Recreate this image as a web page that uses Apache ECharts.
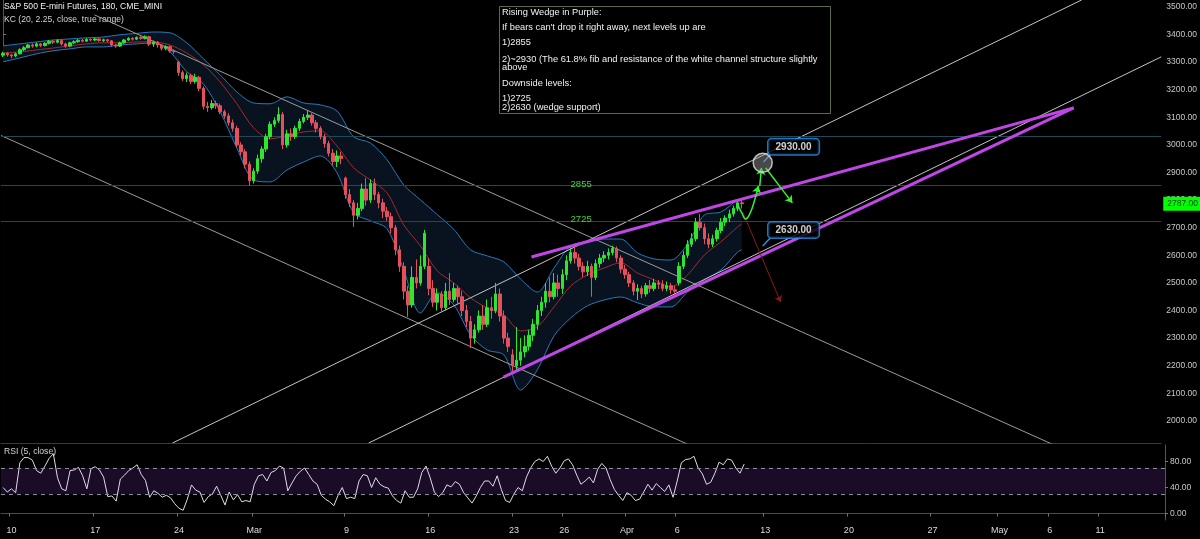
<!DOCTYPE html>
<html>
<head>
<meta charset="utf-8">
<script src="https://cdn.jsdelivr.net/npm/echarts@6/dist/echarts.min.js"></script>
<style>
html, body { margin: 0; padding: 0; background: #000; }
#container { width: 1200px; height: 539px; }
</style>
</head>
<body>
<div id="container"></div>
<script>
// ---- data ----
var barCount = 278;   // bars on the time axis (incl. empty future space)

// [open, close, low, high], 4 bars per trading day, from Feb 7 (last 2 bars) to Apr 9
var candles = [
[3325,3332,3318,3338],[3332,3326,3320,3336],
[3326,3322,3314,3330],[3322,3330,3318,3335],[3330,3345,3328,3350],[3345,3352,3340,3358],
[3352,3362,3350,3366],[3362,3358,3352,3368],[3358,3366,3354,3372],[3366,3360,3354,3370],
[3360,3368,3357,3372],[3368,3375,3364,3380],[3375,3372,3366,3381],[3372,3378,3368,3383],
[3378,3366,3360,3382],[3366,3358,3352,3370],[3358,3370,3354,3374],[3370,3374,3366,3379],
[3374,3379,3370,3383],[3379,3376,3371,3384],[3376,3382,3373,3387],[3382,3380,3375,3386],
[3380,3384,3376,3388],[3384,3378,3374,3387],[3378,3381,3373,3385],[3381,3377,3372,3384],
[3377,3362,3356,3380],[3362,3358,3352,3366],[3358,3370,3355,3374],[3370,3380,3366,3384],
[3380,3386,3377,3390],[3386,3383,3378,3390],[3383,3389,3380,3393],[3389,3386,3381,3394],
[3386,3392,3382,3397],[3392,3365,3358,3395],[3365,3372,3355,3378],[3372,3362,3352,3376],
[3362,3350,3342,3366],[3350,3356,3343,3361],[3356,3340,3334,3360],[3340,3338,3330,3346],
[3300,3262,3250,3305],[3262,3240,3232,3270],[3240,3252,3228,3262],[3252,3230,3220,3258],
[3230,3245,3222,3258],[3245,3205,3195,3250],[3205,3140,3128,3212],[3140,3135,3120,3156],
[3135,3150,3128,3163],[3150,3142,3130,3160],[3142,3120,3112,3150],[3120,3105,3095,3128],
[3105,3080,3070,3115],[3080,3060,3048,3092],[3060,3000,2990,3070],[3000,2975,2962,3010],
[2975,2930,2915,2985],[2930,2870,2852,2940],[2870,2905,2860,2915],[2905,2950,2895,2965],
[2950,2985,2935,2995],[2985,3030,2975,3040],[3030,3075,3020,3085],[3075,3088,3065,3100],
[3088,3110,3080,3137],[3110,3000,2985,3120],[3000,3040,2990,3055],[3040,3030,3015,3060],
[3030,3060,3022,3070],[3060,3085,3050,3095],[3085,3100,3078,3112],[3100,3108,3090,3125],
[3108,3080,3070,3115],[3080,3060,3045,3090],[3060,3030,3020,3068],[3030,3005,2990,3040],
[3005,2970,2958,3015],[2970,2940,2925,2985],[2940,2960,2920,2980],[2960,2950,2930,2975],
[2880,2820,2805,2885],[2820,2790,2775,2840],[2790,2745,2703,2800],[2745,2770,2730,2790],
[2770,2840,2760,2860],[2840,2800,2780,2880],[2800,2860,2790,2875],[2860,2820,2800,2878],
[2820,2790,2770,2830],[2790,2760,2735,2805],[2760,2740,2725,2775],[2740,2700,2680,2755],
[2700,2620,2600,2710],[2620,2560,2540,2635],[2560,2470,2440,2575],[2470,2420,2377,2490],
[2420,2520,2410,2560],[2520,2500,2480,2585],[2500,2560,2490,2600],[2560,2680,2550,2692],
[2560,2480,2455,2590],[2480,2430,2413,2510],[2430,2460,2400,2480],[2460,2410,2395,2470],
[2410,2470,2400,2500],[2470,2440,2420,2536],[2440,2480,2430,2500],[2480,2450,2420,2490],
[2450,2400,2380,2470],[2400,2360,2340,2420],[2360,2300,2264,2380],[2300,2330,2280,2350],
[2330,2380,2320,2400],[2380,2350,2330,2420],[2350,2410,2340,2440],[2410,2400,2370,2450],
[2400,2460,2390,2500],[2460,2380,2360,2480],[2380,2300,2280,2400],[2300,2270,2250,2320],
[2240,2200,2178,2260],[2200,2220,2180,2340],[2220,2250,2200,2300],[2250,2270,2230,2310],
[2270,2310,2255,2330],[2310,2350,2290,2370],[2350,2400,2330,2420],[2400,2430,2380,2450],
[2430,2470,2410,2500],[2470,2450,2430,2520],[2450,2500,2440,2536],[2500,2480,2450,2530],
[2480,2530,2460,2550],[2530,2580,2510,2600],[2580,2610,2570,2630],[2610,2590,2570,2630],
[2590,2560,2545,2605],[2560,2540,2520,2575],[2540,2560,2525,2580],[2560,2520,2450,2570],
[2520,2570,2510,2585],[2570,2590,2555,2605],[2590,2600,2575,2615],[2600,2610,2585,2625],
[2610,2625,2600,2635],[2625,2590,2575,2632],[2590,2550,2535,2600],[2550,2530,2515,2565],
[2530,2500,2485,2540],[2500,2470,2455,2510],[2470,2480,2438,2495],[2480,2460,2445,2490],
[2460,2490,2450,2500],[2490,2480,2465,2510],[2480,2500,2470,2515],[2500,2495,2478,2511],
[2495,2480,2470,2510],[2480,2490,2470,2505],[2490,2475,2460,2500],[2475,2470,2455,2490],
[2500,2560,2490,2575],[2560,2600,2550,2615],[2600,2640,2590,2655],[2640,2660,2630,2680],
[2660,2720,2650,2735],[2720,2700,2690,2750],[2700,2660,2640,2715],[2660,2640,2625,2680],
[2640,2660,2630,2675],[2660,2690,2650,2700],[2690,2720,2680,2735],[2720,2735,2705,2745],
[2735,2750,2720,2765],[2750,2770,2740,2780],[2770,2790,2760,2801],[2790,2787,2770,2800]
];

// Keltner channel, read once per trading day
var kcBars = [0,4,8,12,16,20,24,28,32,36,40,44,48,52,56,60,64,68,72,76,80,84,88,92,96,
  100,104,108,112,116,120,124,128,132,136,140,144,148,152,156,160,164,168,172,176,177];
var kcUpper = [3359,3366,3373,3380,3384,3388,3391,3399,3404,3409,3406,3370,3312,3254,3192,3152,
  3149,3174,3152,3145,3123,3029,3007,2946,2855,2801,2748,2694,2620,2598,2576,2514,2467,2554,
  2634,2649,2659,2659,2609,2587,2583,2641,2746,2757,2801,2804];
var kcMid = [3333,3337,3344,3351,3359,3366,3370,3370,3373,3373,3362,3333,3290,3228,3149,3062,
  3022,3033,3047,3051,2996,2917,2873,2826,2710,2634,2544,2500,2446,2409,2384,2326,2341,2413,
  2489,2529,2554,2573,2536,2511,2486,2529,2601,2649,2703,2714];
var kcLower = [3301,3315,3330,3341,3348,3355,3355,3362,3366,3370,3337,3265,3221,3120,2989,2873,
  2866,2909,2938,2960,2899,2754,2725,2696,2547,2391,2464,2420,2312,2257,2239,2112,2185,2308,
  2373,2417,2438,2449,2428,2413,2413,2467,2511,2547,2612,2620];

// RSI(5), one value per bar
var rsiValues = [
40,33,38,32,78,86,86,82,66,62, 73,85,92,55,38,35,66,67,71,58,
38,69,72,67,56,26,27,19,53,59, 66,70,75,60,51,25,35,31,25,28,
24,15,8,5,22,44,36,33,17,26, 30,42,28,13,33,21,29,18,20,18,
45,58,60,50,63,66,73,70,35,47, 58,65,70,60,50,45,28,22,18,12,
28,40,23,25,23,50,60,58,40,55, 45,41,39,27,20,16,35,25,25,38,
63,73,55,33,26,32,44,41,49,45, 32,24,16,27,40,50,50,42,58,37,
20,17,30,40,35,56,70,80,84,80, 88,73,62,70,81,84,75,59,45,50,
56,47,68,77,70,52,37,28,20,32, 28,20,22,33,45,36,46,40,34,44,
25,50,78,83,84,88,70,61,45,48, 62,79,75,84,82,70,62,76
];

var levels = [3030, 2855, 2725];
var levelNames = ['', '2855', '2725'];
var lastPrice = 2787;

var tickBars = [2,22,42,60,82,102,122,134,149,161,182,202,222,238,250,262];
var tickTexts = ['10','17','24','Mar','9','16','23','26','Apr','6','13','20','27','May','6','11'];
var priceTicks = [2000,2100,2200,2300,2400,2500,2600,2700,2800,2900,3000,3100,3200,3300,3400,3500];
var rsiTicks = [0, 40, 80];

// drawn lines: [[bar, price], [bar, price]]
var channelLines = [
  [[21.9, 3471], [263, 1837]],
  [[-0.5, 3034], [200, 1671]],
  [[40.6, 1920], [258.4, 3525]],
  [[87.6, 1920], [277.5, 3319]]
];
var wedgeLines = [
  [[126.6, 2594], [256.5, 3134]],
  [[119.9, 2159], [256.5, 3134]]
];
var greenCurve = [[176.0, 2783], [177.0, 2754], [177.9, 2732], [178.9, 2750], [180.1, 2801], [181.0, 2851]];
var greenArrows = [
  [[180.6, 2830], [181.0, 2851]],
  [[181.3, 2851], [181.7, 2917]],
  [[182.7, 2917], [189.1, 2790]]
];
var redArrow = [[177.2, 2757], [186.3, 2431]];
var targetPoint = [182.0, 2935];
var callouts = [
  { name: '2930.00', box: [189.4, 2993], tip: [182.2, 2938], from: [183.8, 2964] },
  { name: '2630.00', box: [189.4, 2692], tip: [182.0, 2634], from: [183.8, 2663] }
];

var noteLines = [
  'Rising Wedge in Purple:',
  'If bears can\'t drop it right away, next levels up are',
  '1)2855',
  '2)~2930 (The 61.8% fib and resistance of the white channel structure slightly',
  'above',
  'Downside levels:',
  '1)2725',
  '2)2630 (wedge support)'
];
var noteY = [12, 27, 42, 59, 67, 83, 98, 107];

// ---- chart ----
var FONT = 'Liberation Sans';
var dom = document.getElementById('container');
var myChart = echarts.init(dom);

var cats = [];
for (var i = 0; i < barCount; i++) cats.push(String(i));

function pairs(xs, ys) {
    return xs.map(function (x, k) { return [x, ys[k]]; });
}
function isTick(index) {
    return tickBars.indexOf(index) >= 0;
}

var series = [];

// KC fill: navy down from the upper band, then black down from the lower band
series.push({
    type: 'line', xAxisIndex: 1, yAxisIndex: 0, data: pairs(kcBars, kcUpper),
    showSymbol: false, smooth: 0.3, z: 1,
    lineStyle: { color: '#2a78bc', width: 1 },
    areaStyle: { color: '#08131f', opacity: 1, origin: 'start' }
});
series.push({
    type: 'line', xAxisIndex: 1, yAxisIndex: 0, data: pairs(kcBars, kcLower),
    showSymbol: false, smooth: 0.3, z: 2,
    lineStyle: { color: '#2a78bc', width: 1 },
    areaStyle: { color: '#000000', opacity: 1, origin: 'start' }
});
series.push({
    type: 'line', xAxisIndex: 1, yAxisIndex: 0, data: pairs(kcBars, kcMid),
    showSymbol: false, smooth: 0.3, z: 3,
    lineStyle: { color: '#a52a2a', width: 1 },
    markLine: {
        silent: true, symbol: ['none', 'none'],
        data: levels.map(function (v, k) {
            return { yAxis: v, label: { show: levelNames[k] !== '', formatter: levelNames[k] } };
        }),
        lineStyle: { color: '#1d4a58', type: 'solid', width: 1 },
        label: { position: 'middle', color: '#3fd23f', fontSize: 9.5, fontFamily: FONT, distance: -4 }
    }
});

channelLines.forEach(function (ln, k) {
    series.push({
        type: 'line', xAxisIndex: 1, yAxisIndex: 0, data: ln, showSymbol: false, z: 4, clip: true,
        lineStyle: { color: k < 2 ? '#9c9c9c' : '#c4c4c4', width: 1 }
    });
});

series.push({
    type: 'candlestick', xAxisIndex: 0, yAxisIndex: 0, data: candles,
    barWidth: 3, z: 5,
    itemStyle: {
        color: '#2ee62e', color0: '#e4505c',
        borderColor: '#2ee62e', borderColor0: '#e4505c', borderWidth: 1
    },
    markLine: {
        silent: true, symbol: ['none', 'none'],
        data: [{ yAxis: lastPrice }],
        lineStyle: { color: 'rgba(0,0,0,0)', width: 0 },
        label: {
            show: true, position: 'end', distance: 2, formatter: lastPrice.toFixed(2),
            backgroundColor: '#00ff00', color: '#0a3a0a', fontSize: 8.5, fontFamily: FONT,
            padding: [3, 4, 2, 4]
        }
    }
});

wedgeLines.forEach(function (ln) {
    series.push({
        type: 'line', xAxisIndex: 1, yAxisIndex: 0, data: ln, showSymbol: false, z: 6, clip: true,
        lineStyle: { color: '#c046e8', width: 3 }
    });
});

// annotations
series.push({
    type: 'line', xAxisIndex: 1, yAxisIndex: 0, data: greenCurve, showSymbol: false, smooth: true, z: 7,
    lineStyle: { color: '#33f033', width: 1.5 }
});
series.push({
    type: 'lines', coordinateSystem: 'cartesian2d', xAxisIndex: 1, yAxisIndex: 0, z: 7,
    symbol: ['none', 'arrow'], symbolSize: 7,
    lineStyle: { color: '#33f033', width: 1.5, opacity: 1 },
    data: greenArrows.map(function (c) { return { coords: c }; })
});
series.push({
    type: 'lines', coordinateSystem: 'cartesian2d', xAxisIndex: 1, yAxisIndex: 0, z: 7,
    symbol: ['none', 'arrow'], symbolSize: 6,
    lineStyle: { color: '#8a1a1a', width: 1, opacity: 1 },
    data: [{ coords: redArrow }]
});
series.push({
    type: 'lines', coordinateSystem: 'cartesian2d', xAxisIndex: 1, yAxisIndex: 0, z: 7,
    lineStyle: { color: '#2d8ee6', width: 1.5, opacity: 1 },
    data: callouts.map(function (c) { return { coords: [c.from, c.tip] }; })
});
series.push({
    type: 'scatter', xAxisIndex: 1, yAxisIndex: 0, z: 8, data: [targetPoint], symbolSize: 19,
    itemStyle: { color: 'rgba(150,150,150,0.6)', borderColor: '#e6e6e6', borderWidth: 1.5 }
});
series.push({
    type: 'scatter', xAxisIndex: 1, yAxisIndex: 0, z: 9, symbolSize: 1,
    itemStyle: { color: 'rgba(0,0,0,0)' },
    data: callouts.map(function (c) { return { name: c.name, value: c.box }; }),
    label: {
        show: true, position: 'inside', formatter: '{b}',
        color: '#ffffff', fontWeight: 'bold', fontSize: 10, fontFamily: FONT,
        backgroundColor: '#000000', borderColor: '#2d8ee6', borderWidth: 1.5, borderRadius: 3,
        padding: [3, 7, 2, 7]
    }
});

// RSI pane
series.push({
    type: 'line', xAxisIndex: 2, yAxisIndex: 1, data: rsiValues, showSymbol: false, z: 3,
    lineStyle: { color: '#dcdce6', width: 1 },
    markArea: {
        silent: true, itemStyle: { color: '#1a0c26' },
        data: [[{ yAxis: 30 }, { yAxis: 70 }]]
    },
    markLine: {
        silent: true, symbol: ['none', 'none'], label: { show: false },
        lineStyle: { color: '#8c8c9c', type: [4, 4], width: 1 },
        data: [{ yAxis: 70 }, { yAxis: 30 }]
    }
});

var graphic = [
    { type: 'text', left: 4, top: 2, style: { text: 'S&P 500 E-mini Futures, 180, CME_MINI', fill: '#f0f0f0', font: '8.6px ' + FONT } },
    { type: 'text', left: 4, top: 15, style: { text: 'KC (20, 2.25, close, true range)', fill: '#d4d4d4', font: '8.6px ' + FONT } },
    { type: 'text', left: 4, top: 447, style: { text: 'RSI (5, close)', fill: '#d4d4d4', font: '8.6px ' + FONT } },
    { type: 'rect', left: 499, top: 6, shape: { width: 331, height: 107 },
      style: { fill: '#000', stroke: '#5b6a4c', lineWidth: 1 }, z: 20 }
];
noteLines.forEach(function (t, k) {
    graphic.push({
        type: 'text', x: 502, y: noteY[k], z: 21,
        style: { text: t, fill: '#f2f2f2', font: '9.3px ' + FONT, verticalAlign: 'middle' }
    });
});

var axisText = { color: '#c8c8c8', fontSize: 8.5, fontFamily: FONT };

var option = {
    backgroundColor: '#000000',
    animation: false,
    grid: [
        { left: 1, right: 35, top: 0, height: 443 },
        { left: 1, right: 35, top: 445, height: 75 }
    ],
    xAxis: [
        { type: 'category', gridIndex: 0, data: cats, boundaryGap: true,
          axisLine: { show: true, lineStyle: { color: '#3a3a3a' } },
          axisTick: { show: false }, axisLabel: { show: false }, splitLine: { show: false } },
        { type: 'value', gridIndex: 0, min: -0.5, max: barCount - 0.5, show: false },
        { type: 'category', gridIndex: 1, data: cats, boundaryGap: true,
          axisLine: { show: true, lineStyle: { color: '#4a4a4a' } },
          axisTick: { show: true, inside: false, length: 3, interval: isTick, lineStyle: { color: '#777' } },
          axisLabel: { interval: isTick, margin: 6, color: '#dcdcdc', fontSize: 9, fontFamily: FONT,
              formatter: function (v, idx) { return tickTexts[tickBars.indexOf(idx)] || ''; } },
          splitLine: { show: false } }
    ],
    yAxis: [
        { type: 'value', gridIndex: 0, position: 'right', min: 1920, max: 3525,
          axisLine: { show: true, lineStyle: { color: '#555' } },
          axisTick: { show: true, length: 3, customValues: priceTicks, lineStyle: { color: '#777' } },
          axisLabel: Object.assign({ margin: 5, customValues: priceTicks,
              formatter: function (v) { return v.toFixed(2); } }, axisText),
          splitLine: { show: false } },
        { type: 'value', gridIndex: 1, position: 'right', min: -10, max: 105.4,
          axisLine: { show: true, lineStyle: { color: '#555' } },
          axisTick: { show: true, length: 3, customValues: rsiTicks, lineStyle: { color: '#777' } },
          axisLabel: Object.assign({ margin: 5, customValues: rsiTicks,
              formatter: function (v) { return v.toFixed(2); } }, axisText),
          splitLine: { show: false } }
    ],
    graphic: graphic,
    series: series
};

if (option && typeof option === 'object') {
    myChart.setOption(option);
}
</script>
</body>
</html>
